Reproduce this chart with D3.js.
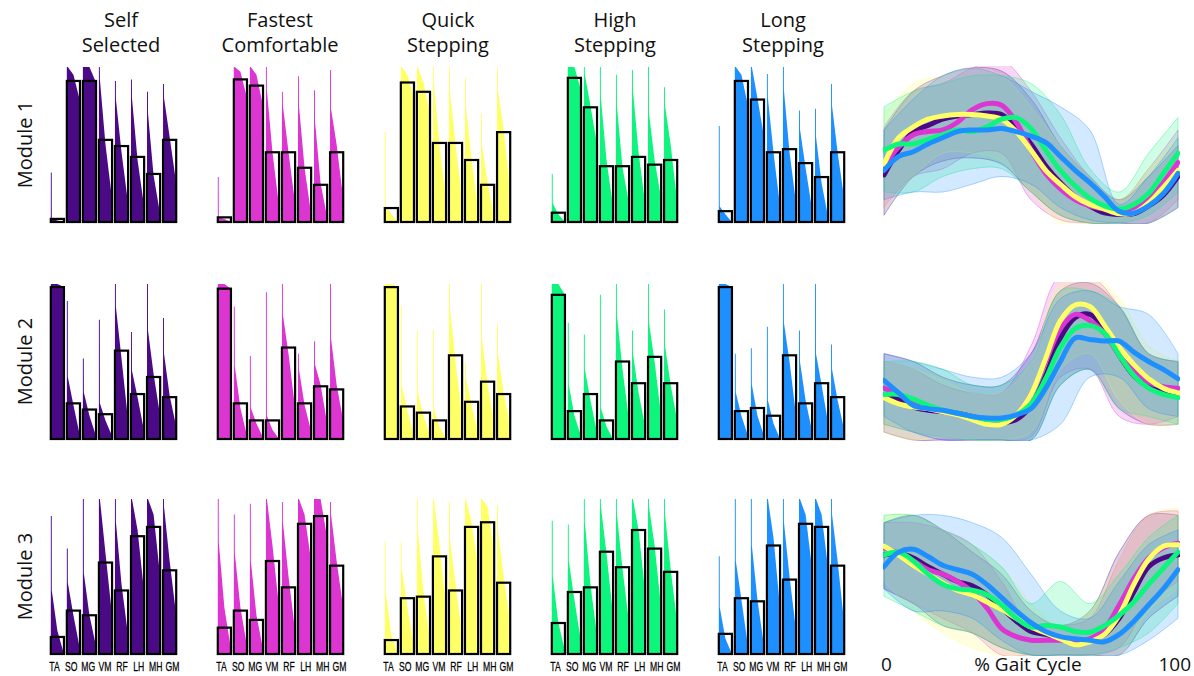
<!DOCTYPE html>
<html><head><meta charset="utf-8">
<script src="https://cdn.jsdelivr.net/npm/d3@7"></script>
<style>body{margin:0;background:#fff}svg{display:block}</style>
</head><body>
<svg id="chart" width="1194" height="676"></svg>
<script>
// ---------- data ----------
const muscles = ["TA","SO","MG","VM","RF","LH","MH","GM"];
const titleLines = [["Self","Selected"],["Fastest","Comfortable"],["Quick","Stepping"],["High","Stepping"],["Long","Stepping"]];
const modules = ["Module 1","Module 2","Module 3"];
const colors = ["#4b0a85","#dc35d2","#ffff66","#0df57c","#1e8fff"];

// mean weights (black boxes), per condition, per muscle
const meanM1 = [
 [0.02,0.91,0.91,0.53,0.49,0.42,0.31,0.53],
 [0.03,0.92,0.88,0.45,0.45,0.35,0.24,0.45],
 [0.09,0.90,0.84,0.51,0.51,0.40,0.24,0.58],
 [0.06,0.93,0.74,0.36,0.36,0.42,0.37,0.40],
 [0.07,0.91,0.79,0.45,0.47,0.38,0.29,0.45]];
const meanM2 = [
 [0.98,0.23,0.19,0.16,0.57,0.29,0.40,0.27],
 [0.97,0.23,0.12,0.12,0.59,0.23,0.34,0.32],
 [0.98,0.21,0.17,0.12,0.54,0.24,0.37,0.29],
 [0.93,0.18,0.29,0.12,0.50,0.36,0.53,0.36],
 [0.98,0.18,0.20,0.15,0.54,0.23,0.36,0.27]];
const meanM3 = [
 [0.11,0.28,0.25,0.59,0.41,0.76,0.82,0.54],
 [0.17,0.28,0.22,0.60,0.43,0.84,0.89,0.57],
 [0.09,0.36,0.37,0.63,0.41,0.82,0.85,0.46],
 [0.20,0.40,0.43,0.66,0.56,0.80,0.68,0.53],
 [0.13,0.36,0.34,0.70,0.48,0.84,0.82,0.57]];

// sorted individual-subject weights: [highest, next, middle, lowest]
const subjM1 = [
 [[0.32,0.02,0.01,0],[1,1,0.95,0.78],[1,1,1,0.9],[1,0.92,0.5,0.15],[0.91,0.79,0.45,0.12],[0.92,0.8,0.4,0.1],[0.84,0.7,0.3,0.05],[0.89,0.8,0.55,0.25]],
 [[0.29,0.03,0.02,0],[1,1,0.97,0.8],[1,1,0.95,0.75],[1,0.85,0.45,0.1],[0.84,0.75,0.45,0.12],[0.94,0.75,0.35,0.05],[0.85,0.65,0.25,0.03],[0.98,0.73,0.5,0.15]],
 [[0.58,0.1,0.05,0],[1,1,0.95,0.8],[1,1,0.9,0.7],[1,0.9,0.5,0.15],[1,0.85,0.5,0.15],[0.93,0.75,0.4,0.08],[0.7,0.5,0.25,0.03],[0.99,0.85,0.6,0.2]],
 [[0.31,0.12,0.05,0],[1,1,1,0.85],[1,0.95,0.75,0.5],[1,0.8,0.4,0.1],[0.95,0.75,0.35,0.12],[0.98,0.85,0.45,0.12],[1,0.7,0.4,0.15],[0.87,0.75,0.5,0.13]],
 [[0.62,0.1,0.05,0],[1,1,0.95,0.75],[1,1,0.8,0.55],[0.955,0.8,0.45,0.1],[1,0.85,0.45,0.12],[0.72,0.6,0.35,0.08],[0.73,0.55,0.25,0.03],[0.89,0.75,0.45,0.15]]];
const subjM2 = [
 [[1,1,1,0.98],[0.89,0.4,0.22,0.02],[0.52,0.3,0.15,0.02],[0.77,0.23,0.12,0.02],[1,0.85,0.52,0.12],[0.69,0.44,0.27,0.05],[1,0.7,0.42,0.15],[0.78,0.55,0.28,0.08]],
 [[1,1,1,0.97],[0.855,0.47,0.2,0.02],[0.535,0.2,0.1,0.01],[0.946,0.15,0.06,0],[1,0.8,0.55,0.2],[0.55,0.45,0.22,0.05],[0.63,0.48,0.35,0.1],[1,0.65,0.35,0.12]],
 [[1,1,1,0.98],[0.86,0.35,0.18,0.02],[0.7,0.3,0.15,0.02],[0.705,0.2,0.08,0],[1,0.85,0.5,0.15],[0.49,0.4,0.22,0.04],[1,0.65,0.35,0.1],[0.74,0.55,0.3,0.08]],
 [[1,1,1,0.93],[0.75,0.35,0.15,0.02],[0.675,0.45,0.25,0.04],[0.93,0.2,0.08,0],[1,0.8,0.45,0.12],[0.7,0.55,0.3,0.08],[1,0.75,0.5,0.15],[0.835,0.6,0.35,0.12]],
 [[1,1,1,0.98],[0.55,0.3,0.15,0.02],[0.585,0.35,0.15,0.02],[0.725,0.25,0.1,0],[1,0.75,0.5,0.15],[0.7,0.5,0.25,0.05],[1,0.55,0.35,0.1],[0.61,0.45,0.25,0.06]]];
const subjM3 = [
 [[0.89,0.41,0.15,0],[0.68,0.46,0.25,0.03],[1,0.52,0.25,0.05],[1,1,0.65,0.25],[1,0.85,0.45,0.12],[1,1,0.8,0.4],[1,1,0.9,0.5],[1,0.95,0.6,0.25]],
 [[1,0.72,0.3,0.03],[0.9,0.65,0.3,0.05],[0.97,0.6,0.25,0.03],[1,1,0.7,0.3],[0.98,0.85,0.5,0.15],[1,1,0.9,0.6],[1,1,1,0.75],[0.98,0.9,0.6,0.3]],
 [[0.725,0.4,0.12,0],[0.72,0.55,0.3,0.05],[1,0.8,0.4,0.08],[1,1,0.7,0.3],[0.98,0.75,0.45,0.12],[1,1,0.85,0.55],[1,1,0.95,0.65],[0.96,0.8,0.5,0.2]],
 [[0.86,0.5,0.2,0.02],[0.835,0.6,0.35,0.08],[1,0.85,0.45,0.12],[1,0.95,0.65,0.25],[1,0.9,0.55,0.2],[1,1,0.8,0.4],[1,0.95,0.7,0.3],[1,0.9,0.55,0.2]],
 [[0.63,0.3,0.1,0],[1,0.6,0.35,0.05],[1,0.7,0.35,0.05],[1,1,0.75,0.3],[1,0.85,0.5,0.15],[1,1,0.9,0.55],[1,1,0.9,0.55],[1,0.9,0.6,0.2]]];

// activation profiles over gait cycle
const gaitPct = [0,5,10,15,20,25,30,35,40,45,50,55,60,65,70,75,80,85,90,95,100];
const bandPct = [0,10,20,30,40,50,60,70,80,90,100];
const lineM1 = [
 [0.31,0.47,0.59,0.63,0.67,0.69,0.70,0.71,0.70,0.62,0.51,0.37,0.26,0.17,0.11,0.065,0.055,0.06,0.11,0.18,0.30],
 [0.37,0.49,0.57,0.59,0.60,0.65,0.73,0.77,0.76,0.65,0.47,0.32,0.22,0.15,0.11,0.09,0.075,0.09,0.15,0.26,0.39],
 [0.38,0.55,0.62,0.67,0.69,0.70,0.70,0.69,0.67,0.59,0.47,0.34,0.25,0.17,0.12,0.09,0.06,0.065,0.13,0.23,0.34],
 [0.47,0.51,0.51,0.54,0.57,0.60,0.59,0.62,0.67,0.68,0.61,0.47,0.34,0.24,0.16,0.11,0.09,0.12,0.19,0.32,0.45],
 [0.34,0.43,0.46,0.51,0.55,0.59,0.60,0.60,0.61,0.59,0.56,0.52,0.43,0.34,0.26,0.17,0.075,0.065,0.11,0.19,0.32]];
const bandHiM1 = [
 [0.6,0.85,0.95,1.0,0.98,0.8,0.5,0.3,0.15,0.3,0.5],
 [0.62,0.85,0.9,1.0,1.05,0.85,0.55,0.3,0.15,0.35,0.6],
 [0.7,0.9,0.95,1.0,0.95,0.75,0.5,0.3,0.15,0.35,0.55],
 [0.75,0.85,0.9,0.95,0.95,0.9,0.7,0.35,0.2,0.45,0.68],
 [0.6,0.8,0.95,1.0,0.95,0.85,0.75,0.6,0.12,0.3,0.55]];
const bandLoM1 = [
 [0.05,0.3,0.4,0.42,0.38,0.2,0.05,0,0,0,0.1],
 [0.1,0.3,0.35,0.45,0.45,0.15,0.02,0,0,0,0.15],
 [0.1,0.3,0.45,0.45,0.4,0.2,0,0,0,0,0.1],
 [0.2,0.2,0.3,0.35,0.35,0.2,0.05,0,0,0.05,0.2],
 [0.15,0.2,0.2,0.25,0.3,0.25,0.1,0.02,0,0,0.1]];
const lineM2 = [
 [0.28,0.26,0.21,0.19,0.18,0.17,0.15,0.12,0.11,0.13,0.22,0.41,0.65,0.78,0.80,0.71,0.54,0.41,0.34,0.31,0.30],
 [0.33,0.29,0.24,0.20,0.18,0.16,0.14,0.11,0.11,0.16,0.29,0.50,0.71,0.80,0.76,0.68,0.54,0.44,0.37,0.34,0.33],
 [0.27,0.23,0.21,0.20,0.18,0.16,0.13,0.10,0.10,0.16,0.29,0.52,0.76,0.86,0.85,0.73,0.59,0.48,0.39,0.33,0.30],
 [0.29,0.29,0.26,0.22,0.19,0.17,0.15,0.13,0.13,0.16,0.23,0.39,0.59,0.71,0.73,0.68,0.54,0.41,0.33,0.29,0.27],
 [0.38,0.30,0.22,0.20,0.19,0.17,0.15,0.14,0.14,0.16,0.20,0.33,0.50,0.65,0.64,0.63,0.63,0.56,0.50,0.45,0.39]];
const bandHiM2 = [
 [0.55,0.5,0.4,0.35,0.35,0.55,0.95,1.0,0.85,0.55,0.5],
 [0.5,0.45,0.35,0.3,0.3,0.6,1.05,1.05,0.85,0.55,0.5],
 [0.5,0.45,0.38,0.3,0.3,0.5,1.0,1.05,0.9,0.6,0.5],
 [0.5,0.5,0.45,0.35,0.35,0.5,0.95,0.95,0.85,0.55,0.5],
 [0.55,0.5,0.45,0.4,0.4,0.55,0.9,0.95,0.85,0.8,0.55]];
const bandLoM2 = [
 [0.05,0,0,0,0,0,0.35,0.45,0.2,0.1,0.1],
 [0.1,0.05,0,0,0,0.02,0.4,0.45,0.15,0.1,0.15],
 [0.05,0,0.02,0,0,0.05,0.45,0.55,0.25,0.1,0.1],
 [0.1,0.05,0.02,0,0,0,0.35,0.45,0.2,0.15,0.1],
 [0.15,0.05,0,0,0,0,0.1,0.4,0.4,0.2,0.15]];
const lineM3 = [
 [0.68,0.69,0.66,0.60,0.55,0.50,0.47,0.41,0.32,0.23,0.16,0.14,0.11,0.09,0.10,0.14,0.25,0.43,0.60,0.66,0.68],
 [0.73,0.69,0.64,0.58,0.55,0.50,0.43,0.32,0.18,0.125,0.10,0.10,0.10,0.10,0.11,0.18,0.34,0.52,0.66,0.73,0.76],
 [0.74,0.68,0.61,0.55,0.49,0.44,0.41,0.36,0.31,0.25,0.19,0.15,0.11,0.07,0.09,0.14,0.27,0.48,0.65,0.74,0.75],
 [0.68,0.70,0.64,0.55,0.48,0.45,0.44,0.41,0.34,0.25,0.19,0.20,0.19,0.16,0.155,0.20,0.27,0.36,0.48,0.59,0.70],
 [0.60,0.70,0.72,0.67,0.61,0.58,0.55,0.48,0.39,0.30,0.22,0.16,0.125,0.11,0.10,0.09,0.14,0.23,0.34,0.45,0.58]];
const bandHiM3 = [
 [0.9,0.95,0.85,0.7,0.55,0.3,0.2,0.3,0.7,0.95,0.95],
 [0.9,0.9,0.85,0.75,0.5,0.2,0.2,0.25,0.65,0.95,0.98],
 [0.95,0.95,0.85,0.75,0.6,0.35,0.2,0.3,0.65,0.95,1.0],
 [0.95,0.95,0.85,0.75,0.6,0.35,0.5,0.35,0.55,0.8,0.95],
 [0.9,0.95,0.95,0.9,0.8,0.55,0.3,0.25,0.5,0.75,0.85]];
const bandLoM3 = [
 [0.45,0.35,0.2,0.15,0.05,0,0,0,0,0.25,0.4],
 [0.45,0.35,0.25,0.15,0,0,0,0,0.05,0.35,0.5],
 [0.5,0.3,0.15,0.05,0,0,0,0,0,0.3,0.45],
 [0.4,0.3,0.2,0.15,0.05,0,0,0,0.05,0.15,0.35],
 [0.45,0.3,0.3,0.25,0.1,0,0,0,0,0.1,0.25]];
const axisText = ["0","% Gait Cycle","100"];

// ---------- layout ----------
const svg = d3.select("#chart");
const FONT = "'Open Sans','Noto Sans',sans-serif";
const means = [meanM1, meanM2, meanM3];
const subjects = [subjM1, subjM2, subjM3];
const lines = [lineM1, lineM2, lineM3];
const bandsHi = [bandHiM1, bandHiM2, bandHiM3];
const bandsLo = [bandLoM1, bandLoM2, bandLoM3];

const rowTop = [67, 284, 499];
const rowH = 155;
const colX0 = [50, 217, 384, 551, 718];
const panelW = 127;
const titleX = [121, 280, 448, 615, 783];

// titles
titleLines.forEach((tl, c) => {
  tl.forEach((s, k) => {
    svg.append("text").attr("x", titleX[c]).attr("y", 27 + k * 25)
      .attr("text-anchor", "middle").attr("font-family", FONT).attr("font-size", 20)
      .attr("fill", "#111").text(s);
  });
});
// module labels
modules.forEach((m, r) => {
  const cy = rowTop[r] + rowH / 2;
  svg.append("text").attr("transform", `translate(32,${cy}) rotate(-90)`)
    .attr("text-anchor", "middle").attr("font-family", FONT).attr("font-size", 20)
    .attr("fill", "#111").text(m);
});

// bar panels
modules.forEach((m, r) => {
  colors.forEach((col, c) => {
    const g = svg.append("g");
    const x = d3.scaleBand().domain(muscles).range([colX0[c], colX0[c] + panelW])
      .paddingInner(0.18).paddingOuter(0.05);
    const y = d3.scaleLinear().domain([0, 1]).range([rowTop[r] + rowH, rowTop[r]]).clamp(true);
    const bw = x.bandwidth();
    muscles.forEach((mu, i) => {
      const s = subjects[r][c][i];
      const pts = [{f:0,v:s[0]},{f:0.07,v:s[0]},{f:0.075,v:s[1]},{f:0.5,v:s[2]},{f:1,v:s[3]}];
      const area = d3.area().x(d => x(mu) + d.f * bw).y0(y(0)).y1(d => y(d.v));
      g.append("path").attr("d", area(pts)).attr("fill", col);
    });
    g.selectAll("rect.box").data(means[r][c]).join("rect").attr("class", "box")
      .attr("x", (d, i) => x(muscles[i]))
      .attr("y", d => y(d))
      .attr("width", bw)
      .attr("height", d => y(0) - y(d))
      .attr("fill", "none").attr("stroke", "#000").attr("stroke-width", 2.2);
    if (r === 2) {
      // label row spreads slightly wider than the bars, condensed glyphs
      const lxs = d3.scaleBand().domain(muscles).range([colX0[c] - 4, colX0[c] + panelW + 4]);
      g.selectAll("text.mus").data(muscles).join("text").attr("class", "mus")
        .attr("transform", d => `translate(${lxs(d) + lxs.bandwidth() / 2},671) scale(0.64,1)`)
        .attr("text-anchor", "middle")
        .attr("font-family", "'Liberation Sans',sans-serif")
        .attr("font-size", 13.5).attr("fill", "#000").attr("stroke", "#000").attr("stroke-width", 0.25)
        .text(d => d);
    }
  });
});

// line panels
const lx = d3.scaleLinear().domain([0, 100]).range([884, 1178]);
const lineRange = [[223, 68], [440, 283], [655, 508]];
const clipRange = [[66, 224], [282, 441], [500, 656]];
const defs = svg.append("defs");
modules.forEach((m, r) => {
  defs.append("clipPath").attr("id", "clip" + r).append("rect")
    .attr("x", 883).attr("y", clipRange[r][0]).attr("width", 297)
    .attr("height", clipRange[r][1] - clipRange[r][0]);
  const ly = d3.scaleLinear().domain([0, 1]).range(lineRange[r]);
  const g = svg.append("g").attr("clip-path", `url(#clip${r})`);
  colors.forEach((col, k) => {
    const pts = bandPct.map((p, j) => ({p, hi: bandsHi[r][k][j], lo: bandsLo[r][k][j]}));
    const area = d3.area().curve(d3.curveCatmullRom).x(d => lx(d.p)).y0(d => ly(d.lo)).y1(d => ly(d.hi));
    g.append("path").attr("d", area(pts)).attr("fill", col).attr("fill-opacity", 0.2)
      .attr("stroke", col).attr("stroke-opacity", 0.45).attr("stroke-width", 0.8);
  });
  colors.forEach((col, k) => {
    const pts = gaitPct.map((p, j) => ({p, v: lines[r][k][j]}));
    const line = d3.line().curve(d3.curveCatmullRom).x(d => lx(d.p)).y(d => ly(d.v));
    g.append("path").attr("d", line(pts)).attr("fill", "none").attr("stroke", col)
      .attr("stroke-width", 5).attr("stroke-linecap", "round").attr("stroke-linejoin", "round");
  });
});
// gait axis text
svg.append("text").attr("x", lx(0) - 3).attr("y", 671).attr("font-family", FONT).attr("font-size", 19).attr("fill", "#111").text(axisText[0]);
svg.append("text").attr("x", lx(50) - 3).attr("y", 671).attr("text-anchor", "middle").attr("font-family", FONT).attr("font-size", 19).attr("fill", "#111").text(axisText[1]);
svg.append("text").attr("x", 1191).attr("y", 671).attr("text-anchor", "end").attr("font-family", FONT).attr("font-size", 19).attr("fill", "#111").text(axisText[2]);
</script>
</body></html>
